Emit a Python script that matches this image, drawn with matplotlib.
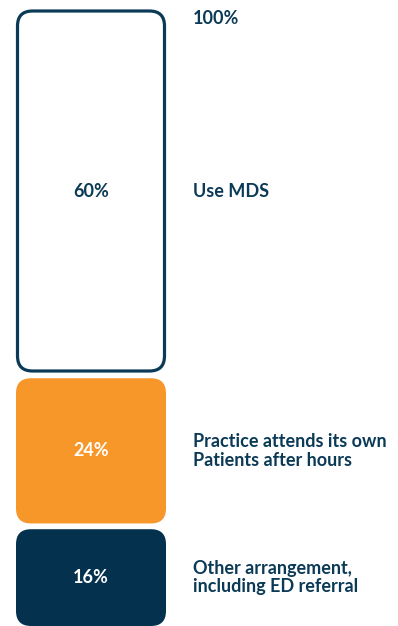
import matplotlib.pyplot as plt
from matplotlib.patches import FancyBboxPatch

# shares, bottom to top
labels = ["Other arrangement,\nincluding ED referral",
          "Practice attends its own\nPatients after hours",
          "Use MDS"]
values = [16, 24, 60]
fills = ["#04324E", "#F7972A", "white"]
value_colors = ["white", "white", "#0B3A57"]
total_label = "100%"

TEXT = "#0B3A57"
PX = 6.05  # pixels per percentage point
GAP = 0.95  # gap between blocks, in points

plt.rcParams["font.family"] = ["Lato", "DejaVu Sans"]

fig = plt.figure(figsize=(3.98, 6.26), dpi=100)
ax = fig.add_axes([0, 0, 1, 1])
ax.set_xlim(0, 398 / PX)
ax.set_ylim(0, 626 / PX)
ax.axis("off")

x0, w = 16 / PX, 150 / PX
r = 15 / PX
bottom = 0
for lab, v, fc, vc in zip(labels, values, fills, value_colors):
    if fc == "white":
        inset = 1.5 / PX
        box = FancyBboxPatch((x0 + inset, bottom + inset), w - 2 * inset, v - 2 * inset,
                             boxstyle=f"round,pad=0,rounding_size={r}",
                             fc="white", ec="#0B3A57", lw=2.3)
    else:
        box = FancyBboxPatch((x0, bottom), w, v,
                             boxstyle=f"round,pad=0,rounding_size={r}",
                             fc=fc, ec="none")
    ax.add_patch(box)
    mid = bottom + v / 2
    ax.text(x0 + w / 2, mid, f"{v}%", ha="center", va="center",
            color=vc, fontsize=13, fontweight="bold")
    ax.text(193 / PX, mid, lab, ha="left", va="center", color=TEXT,
            fontsize=13, fontweight="bold", linespacing=1.1)
    bottom += v + GAP

ax.text(193 / PX, bottom - GAP - 1.5, total_label, ha="left", va="center",
        color=TEXT, fontsize=13, fontweight="bold")

fig.savefig("out.png", dpi=100)
